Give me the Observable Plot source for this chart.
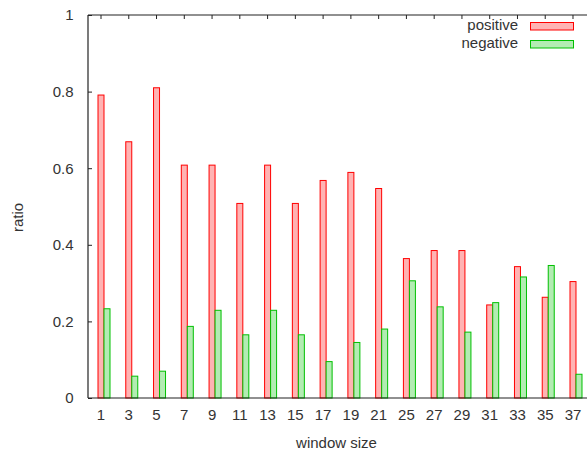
<!DOCTYPE html>
<html>
<head>
<meta charset="utf-8">
<script src="https://cdn.jsdelivr.net/npm/d3@7"></script>
<script src="https://cdn.jsdelivr.net/npm/@observablehq/plot@0.6"></script>
<style>
  html, body { margin: 0; padding: 0; background: #fff; overflow: hidden; }
</style>
</head>
<body>
<div id="chart"></div>
<script>
const windows = [1, 3, 5, 7, 9, 11, 13, 15, 17, 19, 21, 25, 27, 29, 31, 33, 35, 37];
const positive = [0.791, 0.669, 0.810, 0.608, 0.608, 0.508, 0.608, 0.508, 0.568, 0.589, 0.547, 0.364, 0.385, 0.385, 0.243, 0.343, 0.263, 0.304];
const negative = [0.233, 0.057, 0.070, 0.187, 0.229, 0.165, 0.229, 0.165, 0.095, 0.145, 0.180, 0.306, 0.238, 0.172, 0.249, 0.316, 0.346, 0.062];
const yTicks = [0, 0.2, 0.4, 0.6, 0.8, 1];
const yTickLabels = ["0", "0.2", "0.4", "0.6", "0.8", "1"];
const seriesNames = ["positive", "negative"];
const xTitle = "window size";
const yTitle = "ratio";

const rows = windows.map((w, i) => ({w, pos: positive[i], neg: negative[i]}));

const W = 587, H = 455, ML = 88, MT = 15, MB = 57, MR = 0;
const frameW = W - ML - MR, frameH = H - MT - MB;
const bw = 12;
const ink = "#222";
const font = "'Liberation Sans', Arial, sans-serif";

const frameLines = (index, scales, values, dim) => {
  const g = d3.create("svg:g").attr("stroke", ink).attr("stroke-width", 1.2).attr("fill", "none");
  const x0 = dim.marginLeft, x1 = dim.width - dim.marginRight;
  const y0 = dim.marginTop, y1 = dim.height - dim.marginBottom;
  g.append("line").attr("x1", x0).attr("x2", x1).attr("y1", y0).attr("y2", y0);
  g.append("line").attr("x1", x0).attr("x2", x1).attr("y1", y1).attr("y2", y1);
  g.append("line").attr("x1", x0).attr("x2", x0).attr("y1", y0).attr("y2", y1);
  return g.node();
};

const legend = (index, scales, values, dim) => {
  const g = d3.create("svg:g");
  const sw = [{fill: "#ffb3b3", stroke: "#ff0000", y: 22.5}, {fill: "#b3ecb3", stroke: "#00c000", y: 40.5}];
  sw.forEach((s, i) => {
    g.append("rect").attr("x", 530.5).attr("y", s.y).attr("width", 43).attr("height", 7.5)
      .attr("fill", s.fill).attr("stroke", s.stroke).attr("stroke-width", 1);
  });
  return g.node();
};

const chart = Plot.plot({
  width: W,
  height: H,
  marginLeft: ML,
  marginTop: MT,
  marginBottom: MB,
  marginRight: MR,
  style: {fontFamily: font, fontSize: "15px", color: "#333", background: "#fff"},
  x: {type: "band", domain: windows, range: [90.12, 589.88], paddingInner: 0.568, paddingOuter: 0.284, round: false, axis: null},
  y: {domain: [0, 1], axis: null},
  marks: [
    // bottom ticks (inward) drawn under bars
    Plot.ruleX(windows, {x: d => d, dx: -3.5, insetTop: frameH - 4, stroke: ink, strokeWidth: 1}),
    Plot.barY(rows, {x: "w", y: "pos", fill: "#ffb3b3", stroke: "#ff0000", strokeWidth: 1, insetRight: bw / 2}),
    Plot.barY(rows, {x: "w", y: "neg", fill: "#b3ecb3", stroke: "#00c000", strokeWidth: 1, insetLeft: bw / 2}),
    // top ticks (mirror, inward)
    Plot.ruleX(windows, {x: d => d, dx: -3.5, insetBottom: frameH - 4, stroke: ink, strokeWidth: 1}),
    // y ticks (inward)
    Plot.ruleY(yTicks, {y: d => d, insetRight: frameW - 4, stroke: ink, strokeWidth: 1}),
    frameLines,
    Plot.axisX({tickSize: 0, tickPadding: 11, dx: -3.5, fontSize: 15, label: null, fill: "#333"}),
    Plot.axisY({ticks: yTicks, tickFormat: (d, i) => yTickLabels[yTicks.indexOf(d)], tickSize: 0, tickPadding: 15, fontSize: 15, label: null, fill: "#333"}),
    Plot.text([yTitle], {text: d => d, frameAnchor: "left", rotate: -90, dx: -70, dy: 10.5, lineAnchor: "middle", textAnchor: "middle", fontSize: 15, fill: "#333"}),
    Plot.text([xTitle], {text: d => d, frameAnchor: "bottom", dx: -1.5, dy: 44.7, lineAnchor: "middle", textAnchor: "middle", fontSize: 15, fill: "#333"}),
    Plot.text([seriesNames[0]], {text: d => d, frameAnchor: "top-right", dx: -69.3, dy: 9.7, lineAnchor: "middle", textAnchor: "end", fontSize: 15, fill: "#333"}),
    Plot.text([seriesNames[1]], {text: d => d, frameAnchor: "top-right", dx: -69.3, dy: 27.9, lineAnchor: "middle", textAnchor: "end", fontSize: 15, fill: "#333"}),
    legend
  ]
});

document.getElementById("chart").appendChild(chart);
</script>
</body>
</html>
